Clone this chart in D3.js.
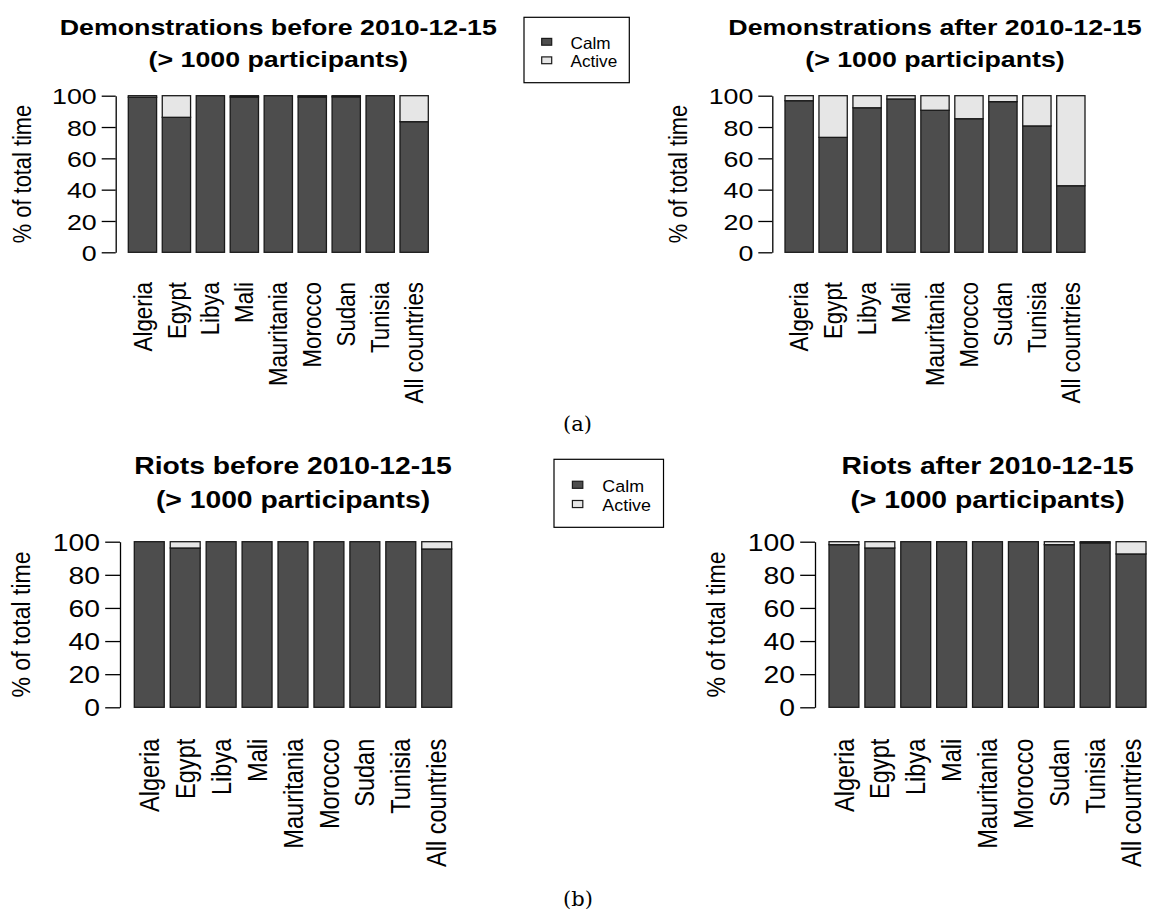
<!DOCTYPE html>
<html>
<head>
<meta charset="utf-8">
<script src="https://cdn.jsdelivr.net/npm/d3@7/dist/d3.min.js"></script>
<style>
  html, body { margin: 0; padding: 0; background: #fff; }
  svg { display: block; }
  text { font-family: "Liberation Sans", Arial, sans-serif; fill: #000; }
</style>
</head>
<body>
<svg id="fig" width="1149" height="913"></svg>
<script>
// ---- data: share of total time (%) spent in each state ----
const countries = ["Algeria", "Egypt", "Libya", "Mali", "Mauritania",
                   "Morocco", "Sudan", "Tunisia", "All countries"];
const stateNames = ["Calm", "Active"];
const yTicks = [0, 20, 40, 60, 80, 100];

const demoBeforeCalm   = [99.0, 86.2, 100, 99.2, 100, 99.2, 99.3, 100, 83.4];
const demoBeforeActive = [1.0, 13.8, 0, 0.8, 0, 0.8, 0.7, 0, 16.6];

const demoAfterCalm    = [96.8, 73.4, 92.3, 97.9, 90.7, 85.3, 96.2, 80.7, 42.5];
const demoAfterActive  = [3.2, 26.6, 7.7, 2.1, 9.3, 14.7, 3.8, 19.3, 57.5];

const riotBeforeCalm   = [100, 96.2, 100, 100, 100, 100, 100, 100, 95.6];
const riotBeforeActive = [0, 3.8, 0, 0, 0, 0, 0, 0, 4.4];

const riotAfterCalm    = [98.2, 96.2, 100, 100, 100, 100, 98.2, 99.3, 92.6];
const riotAfterActive  = [1.8, 3.8, 0, 0, 0, 0, 1.8, 0.7, 7.4];

const titlesTop    = ["Demonstrations before 2010-12-15", "Demonstrations after 2010-12-15"];
const titlesBottom = ["Riots before 2010-12-15", "Riots after 2010-12-15"];
const subTitle = "(> 1000 participants)";
const yLabel = "% of total time";
const captions = ["(a)", "(b)"];

// ---- styling ----
const colCalm = "#4d4d4d";
const colActive = "#e6e6e6";
const edge = "#1a1a1a";
const SX = 1.2;          // horizontal stretch of glyphs
const baseFont = 22.3;

const svg = d3.select("#fig");

// geometry of each panel (pixels)
const panels = [
  { calm: demoBeforeCalm, active: demoBeforeActive, title: titlesTop[0],
    x0: 128.3, x1: 428.3, yTop: 95.7, yBot: 252.3, axisX: 115.7, s: 1, tY: 34.5 },
  { calm: demoAfterCalm, active: demoAfterActive, title: titlesTop[1],
    x0: 785, x1: 1085, yTop: 95.7, yBot: 252.3, axisX: 772.3, s: 1, tY: 34.5 },
  { calm: riotBeforeCalm, active: riotBeforeActive, title: titlesBottom[0],
    x0: 134.3, x1: 451.7, yTop: 541.7, yBot: 707.3, axisX: 120, s: 1.057, tY: 474.3 },
  { calm: riotAfterCalm, active: riotAfterActive, title: titlesBottom[1],
    x0: 829, x1: 1146, yTop: 541.7, yBot: 707.3, axisX: 815, s: 1.057, tY: 474.3 }
];

function drawPanel(p) {
  const f = baseFont * p.s;
  const g = svg.append("g");

  const x = d3.scaleBand().domain(countries).range([p.x0, p.x1])
    .paddingInner(1 / 6).paddingOuter(0);
  const y = d3.scaleLinear().domain([0, 100]).range([p.yBot, p.yTop]);

  const rows = countries.map((c, i) => ({ country: c, Calm: p.calm[i], Active: p.active[i] }));
  const stacked = d3.stack().keys(stateNames)(rows);
  const fills = { Calm: colCalm, Active: colActive };

  g.selectAll("g.layer").data(stacked).join("g")
    .attr("class", "layer")
    .attr("fill", d => fills[d.key])
    .selectAll("rect").data(d => d).join("rect")
      .attr("x", d => x(d.data.country))
      .attr("width", x.bandwidth())
      .attr("y", d => y(d[1]))
      .attr("height", d => y(d[0]) - y(d[1]))
      .attr("stroke", edge)
      .attr("stroke-width", 1.3);

  // y axis
  const tickLen = 14 * p.s, pad = 5 * p.s;
  const ax = g.append("g")
    .attr("transform", `translate(${p.axisX},0)`)
    .call(d3.axisLeft(y).tickValues(yTicks).tickSize(tickLen).tickSizeOuter(0).tickPadding(pad));
  ax.select(".domain").attr("stroke", "#000").attr("stroke-width", 1.3);
  ax.selectAll(".tick line").attr("stroke", "#000").attr("stroke-width", 1.3);
  ax.selectAll(".tick text")
    .attr("x", null).attr("dy", "0.36em")
    .attr("transform", `translate(${-(tickLen + pad)},0) scale(${SX},1)`)
    .style("font-size", f + "px")
    .attr("fill", "#000");

  // y axis title
  g.append("text")
    .attr("transform", `translate(${p.axisX - 85 * p.s},${(p.yTop + p.yBot) / 2}) scale(${SX * 0.95},1) rotate(-90)`)
    .attr("text-anchor", "middle")
    .style("font-size", f * 0.98 + "px")
    .text(yLabel);

  // category labels, vertical
  const labTop = p.yBot + 29.7 * p.s;
  g.selectAll("text.cat").data(countries).join("text")
    .attr("class", "cat")
    .attr("transform", d => `translate(${x(d) + x.bandwidth() / 2},${labTop}) scale(${SX * 0.95},1) rotate(-90)`)
    .attr("text-anchor", "end")
    .attr("dy", "0.358em")
    .style("font-size", f + "px")
    .text(d => d);

  // two-line title
  const cx = (p.x0 + p.x1) / 2;
  [p.title, subTitle].forEach((t, i) => {
    g.append("text")
      .attr("transform", `translate(${cx},${p.tY + i * 32 * p.s}) scale(${SX},1)`)
      .attr("text-anchor", "middle")
      .style("font-size", f + "px")
      .style("font-weight", "bold")
      .text(t);
  });
}

panels.forEach(drawPanel);

// legends between the panels of each row
function drawLegend(bx, by, s) {
  const w = 105.3 * s, h = 65.4 * s;
  const g = svg.append("g").attr("transform", `translate(${bx},${by})`);
  g.append("rect").attr("width", w).attr("height", h)
    .attr("fill", "#fff").attr("stroke", "#000").attr("stroke-width", 1.2);
  const rowY = d3.scalePoint().domain(stateNames).range([24.5 * s, 43 * s]);
  const fills = { Calm: colCalm, Active: colActive };
  stateNames.forEach(k => {
    g.append("rect")
      .attr("x", 17.7 * s).attr("y", rowY(k) - 3.4 * s)
      .attr("width", 10 * s).attr("height", 6.8 * s)
      .attr("fill", fills[k]).attr("stroke", edge).attr("stroke-width", 1.2);
    g.append("text")
      .attr("transform", `translate(${46.5 * s},${rowY(k) + 0.8 * s}) scale(1.04,1)`)
      .attr("dy", "0.36em")
      .style("font-size", 16.5 * s + "px")
      .text(k);
  });
}
drawLegend(524, 17.3, 1);
drawLegend(554, 459.3, 1.04);

// sub-figure captions
[[577.5, 431, captions[0]], [578, 906, captions[1]]].forEach(([cx, cy, t]) => {
  svg.append("text")
    .attr("x", cx).attr("y", cy)
    .attr("text-anchor", "middle")
    .style("font-family", "'DejaVu Serif', 'Liberation Serif', serif")
    .style("font-size", "21px")
    .text(t);
});
</script>
</body>
</html>
